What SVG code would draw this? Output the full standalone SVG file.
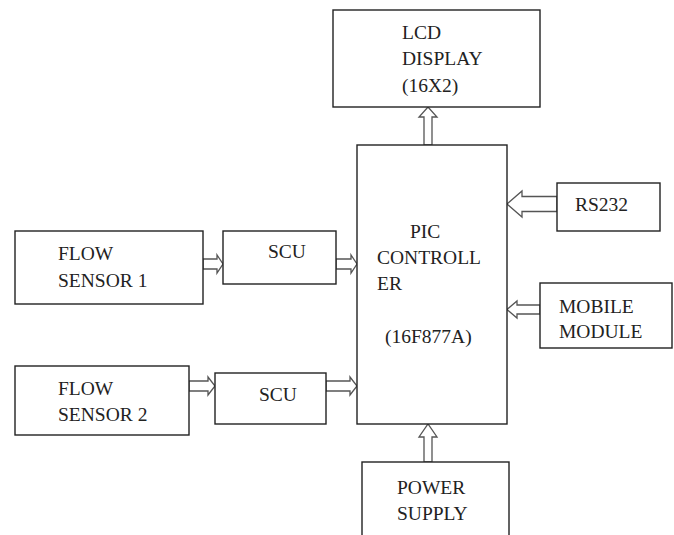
<svg xmlns="http://www.w3.org/2000/svg" width="674" height="535" viewBox="0 0 674 535">
<style>
.box{fill:#fff;stroke:#222;stroke-width:1.4}
.t{font-family:"Liberation Serif","Times New Roman",serif;font-size:19.5px;fill:#222}
.arr{fill:#fff;stroke:#555;stroke-width:1.3;stroke-linejoin:miter}
</style>
<rect width="674" height="535" fill="#fff"/>
<g id="connectors">
<polygon class="arr" points="203,259 217,259 217,255 223,264 217,273 217,269 203,269"/>
<polygon class="arr" points="336,259 351,259 351,255 357,264 351,273 351,269 336,269"/>
<polygon class="arr" points="189,381 208,381 208,377 215,386 208,395 208,391 189,391"/>
<polygon class="arr" points="326,381 350,381 350,377 357,386 350,395 350,391 326,391"/>
<polygon class="arr" points="557,196.5 522,196.5 522,191 507,204 522,217 522,211.5 557,211.5"/>
<polygon class="arr" points="540,305 517,305 517,301 507,309.5 517,318 517,314 540,314"/>
<polygon class="arr" points="424,462 424,437 419,437 428,424 437,437 432,437 432,462"/>
<polygon class="arr" points="424,145 424,117 419,117 428,107 437,117 432,117 432,145"/>
</g>
<g id="lcd">
<rect class="box" x="333" y="10" width="207" height="97"/>
<text class="t" x="402" y="39">LCD</text>
<text class="t" x="402" y="65">DISPLAY</text>
<text class="t" x="402" y="92">(16X2)</text>
</g>
<g id="pic">
<rect class="box" x="357" y="145" width="150" height="279"/>
<text class="t" x="410" y="238">PIC</text>
<text class="t" x="377" y="264">CONTROLL</text>
<text class="t" x="377" y="290">ER</text>
<text class="t" x="385" y="343">(16F877A)</text>
</g>
<g id="rs232">
<rect class="box" x="557" y="183" width="103" height="48"/>
<text class="t" x="575" y="211">RS232</text>
</g>
<g id="mobile">
<rect class="box" x="540" y="283" width="132" height="65"/>
<text class="t" x="559" y="313">MOBILE</text>
<text class="t" x="559" y="338">MODULE</text>
</g>
<g id="scu1">
<rect class="box" x="223" y="231" width="113" height="53"/>
<text class="t" x="268" y="258">SCU</text>
</g>
<g id="scu2">
<rect class="box" x="215" y="373" width="111" height="51"/>
<text class="t" x="259" y="401">SCU</text>
</g>
<g id="fs1">
<rect class="box" x="15" y="231" width="188" height="73"/>
<text class="t" x="58" y="260">FLOW</text>
<text class="t" x="58" y="287">SENSOR 1</text>
</g>
<g id="fs2">
<rect class="box" x="15" y="366" width="174" height="69"/>
<text class="t" x="58" y="395">FLOW</text>
<text class="t" x="58" y="421">SENSOR 2</text>
</g>
<g id="power">
<rect class="box" x="362" y="462" width="147" height="90"/>
<text class="t" x="397" y="494">POWER</text>
<text class="t" x="397" y="520">SUPPLY</text>
</g>
</svg>
